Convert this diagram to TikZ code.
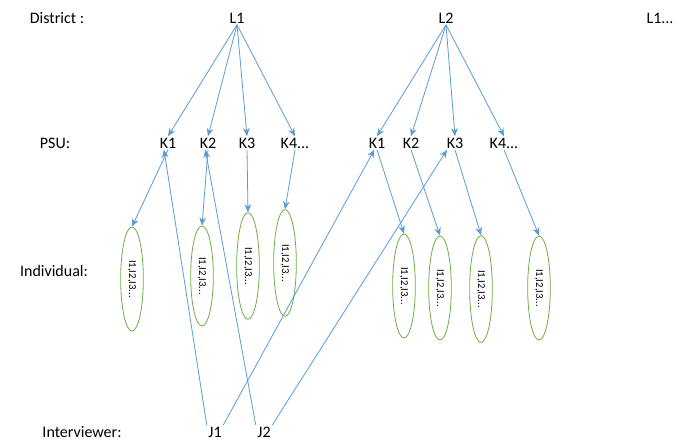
\documentclass[tikz,border=0pt]{standalone}
\usepackage{fontspec}
\setmainfont{Carlito}
\usetikzlibrary{shapes.geometric,arrows.meta}
\definecolor{arrowBlue}{RGB}{91,155,213}
\definecolor{ellGreen}{RGB}{112,173,71}

\begin{document}
\begin{tikzpicture}[x=0.75pt,y=-0.75pt,
    lbl/.style={inner sep=1pt, font=\fontsize{12}{14}\selectfont},
    indiv/.style={ellipse, draw=ellGreen, semithick, rotate=-90, minimum height=17pt, inner sep=0pt, font=\fontsize{8}{9}\selectfont},
    link/.style={-{Stealth[length=6pt,width=5pt]}, arrowBlue, semithick}]
    \useasboundingbox (0,0) rectangle (688,442);
    % Row labels
    \node[lbl] (district) at (57,18) {District :};
    \node[lbl] (psu) at (55,143) {PSU:};
    \node[lbl] (individual) at (54,271) {Individual:};
    \node[lbl] (interviewer) at (82,432) {Interviewer:};
    % Districts
    \node[lbl] (L1) at (237,18) {L1};
    \node[lbl] (L2) at (446,18) {L2};
    \node[lbl] (L3) at (660,18) {L1...};
    % PSUs
    \node[lbl] (aK1) at (168,143) {K1};
    \node[lbl] (aK2) at (208,143) {K2};
    \node[lbl] (aK3) at (247,143) {K3};
    \node[lbl] (aK4) at (295,143) {K4...};
    \node[lbl] (bK1) at (377,143) {K1};
    \node[lbl] (bK2) at (411,143) {K2};
    \node[lbl] (bK3) at (455,143) {K3};
    \node[lbl] (bK4) at (504,143) {K4...};
    % Individuals
    \node[indiv, minimum width=78pt] (aI1) at (132,279) {I1,I2,I3...};
    \node[indiv, minimum width=75pt] (aI2) at (202,276) {I1,I2,I3...};
    \node[indiv, minimum width=80pt] (aI3) at (248,266) {I1,I2,I3...};
    \node[indiv, minimum width=80pt] (aI4) at (285,263) {I1,I2,I3...};
    \node[indiv, minimum width=78pt] (bI1) at (404,286) {I1,I2,I3...};
    \node[indiv, minimum width=78pt] (bI2) at (440,288) {I1,I2,I3...};
    \node[indiv, minimum width=80pt] (bI3) at (481,289) {I1,I2,I3...};
    \node[indiv, minimum width=78pt] (bI4) at (539,288) {I1,I2,I3...};
    % Interviewers
    \node[lbl] (J1) at (215,432) {J1};
    \node[lbl] (J2) at (264,432) {J2};

    \foreach \k in {aK1,aK2,aK3,aK4}
        \draw[link] (L1.south) -- (\k.north);
    \foreach \k in {bK1,bK2,bK3,bK4}
        \draw[link] (L2.south) -- (\k.north);
    \draw[link] (aK1.south) -- (aI1.west);
    \draw[link] (aK2.south) -- (aI2.west);
    \draw[link] (aK3.south) -- (aI3.west);
    \draw[link] (aK4.south) -- (aI4.west);
    \draw[link] (bK1.south) -- (bI1.west);
    \draw[link] (bK2.south) -- (bI2.west);
    \draw[link] (bK3.south) -- (bI3.west);
    \draw[link] (bK4.south) -- (bI4.west);
    % Interviewer assignments
    \draw[link] (J1.north west) -- ([xshift=-3pt]aK1.south);
    \draw[link] (J1.north east) -- ([xshift=-2pt]bK1.south);
    \draw[link] (J2.north west) -- ([xshift=-2pt]aK2.south);
    \draw[link] (J2.north east) -- ([xshift=-6pt]bK3.south);
\end{tikzpicture}
\end{document}
